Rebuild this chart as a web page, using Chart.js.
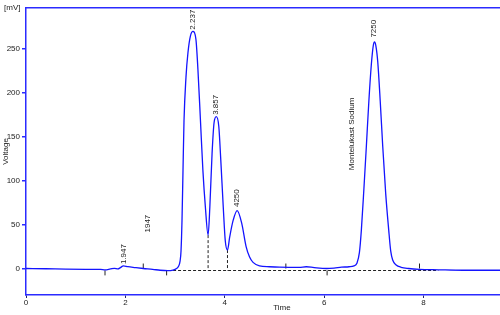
<!DOCTYPE html>
<html><head><meta charset="utf-8">
<script src="https://cdn.jsdelivr.net/npm/chart.js@4"></script>
<style>html,body{margin:0;padding:0;background:#fff}</style>
</head><body>
<canvas id="c" width="500" height="315"></canvas>
<script>
const timeMin = [0.00,0.40,0.80,1.20,1.50,1.59,1.70,1.78,1.85,1.90,1.96,2.05,2.20,2.36,2.55,2.70,2.85,2.96,3.03,3.07,3.10,3.12,3.14,3.16,3.18,3.22,3.26,3.31,3.36,3.42,3.46,3.51,3.56,3.61,3.665,3.70,3.745,3.785,3.83,3.88,3.92,3.97,4.01,4.055,4.10,4.17,4.25,4.34,4.43,4.50,4.57,4.70,4.90,5.10,5.50,5.64,5.80,6.05,6.20,6.35,6.50,6.60,6.66,6.71,6.75,6.80,6.85,6.90,6.95,6.99,7.015,7.04,7.08,7.13,7.18,7.24,7.30,7.34,7.38,7.45,7.55,7.70,7.92,8.30,8.80,9.54];
const signalMv = [0,-0.3,-0.8,-1,-1,-1.5,-0.5,0.2,-0.5,1,3,2,1,0,-1,-2,-2.5,-1.8,0,2.5,8,20,55,112,168,218,246,265,270,261,227,170,112,70,38,70,131,166,173,162,124,70,32,21,36,55,66,52,25,13,7,3,2,1.5,1.2,2,1,0,0.5,1.5,2,3,6,18,44,90,139,190,232,254,258,254,235,190,139,85,44,20,9.7,4,1.4,0,-1,-1.5,-2,-2];

const baselineTime = [2.96, 8.30];
const baselineMv = [-2.3, -2.3];
const dropTime = [3.665, 4.055];
const dropTopMv = [38, 21];
const markUpTime = [2.36, 5.23, 7.92];
const markDownTime = [1.59, 2.83, 6.06];
const markUpMv = 2.8, markDownMv = -5;

const labelTexts = ['2.237','3.857','4250','7250','1.947','1947','Montelukast Sodium'];
const labelTime = [3.36, 3.83, 4.25, 7.005, 1.96, 2.46, 6.55];
const labelMv = [272, 175, 70, 263, 5, 41, 112];

const xTicks = [0,2,4,6,8];
const yTicks = [0,50,100,150,200,250];

const BLUE = '#2b2bff';
const FONT = "'Liberation Sans', Arial, sans-serif";

const textPlugin = {
  id: 'texts',
  afterDatasetsDraw(chart) {
    const {ctx, scales:{x, y}, chartArea} = chart;
    ctx.save();
    ctx.fillStyle = '#222';
    ctx.font = '8px ' + FONT;
    ctx.textAlign = 'left';
    ctx.textBaseline = 'middle';
    labelTexts.forEach((t, i) => {
      ctx.save();
      ctx.translate(x.getPixelForValue(labelTime[i]), y.getPixelForValue(labelMv[i]));
      ctx.rotate(-Math.PI/2);
      ctx.fillText(t, 0, 0);
      ctx.restore();
    });
    ctx.textAlign = 'center';
    ctx.fillText('Time', chartArea.left + 0.54*(chartArea.right - chartArea.left), 308);
    ctx.save();
    ctx.translate(6, (chartArea.top + chartArea.bottom)/2);
    ctx.rotate(-Math.PI/2);
    ctx.fillText('Voltage', 0, 0);
    ctx.restore();
    ctx.textAlign = 'left';
    ctx.fillText('[mV]', 4, 8);
    ctx.restore();
  }
};

new Chart(document.getElementById('c'), {
  type: 'line',
  data: {
    datasets: [
      {
        data: timeMin.map((t, i) => ({x: t, y: signalMv[i]})),
        borderColor: '#1414ff', borderWidth: 1.3, pointRadius: 0,
        cubicInterpolationMode: 'monotone', fill: false
      },
      {
        data: baselineTime.map((t, i) => ({x: t, y: baselineMv[i]})),
        borderColor: '#222', borderWidth: 1, borderDash: [3, 2], pointRadius: 0
      },
      ...dropTime.map((t, i) => ({
        data: [{x: t, y: dropTopMv[i]}, {x: t, y: baselineMv[0]}],
        borderColor: '#222', borderWidth: 1, borderDash: [3, 2], pointRadius: 0
      })),
      {
        type: 'scatter',
        data: markUpTime.map(t => ({x: t, y: markUpMv})),
        pointStyle: 'line', rotation: 90, pointRadius: 2.5, borderColor: '#222', borderWidth: 1, showLine: false
      },
      {
        type: 'scatter',
        data: markDownTime.map(t => ({x: t, y: markDownMv})),
        pointStyle: 'line', rotation: 90, pointRadius: 2.5, borderColor: '#222', borderWidth: 1, showLine: false
      }
    ]
  },
  options: {
    responsive: false,
    animation: false,
    devicePixelRatio: 1,
    layout: {autoPadding: false, padding: {top: 8, right: 0, left: 0, bottom: 0}},
    plugins: {legend: {display: false}, tooltip: {enabled: false}},
    scales: {
      x: {
        type: 'linear', min: 0, max: 9.54,
        afterBuildTicks: s => { s.ticks = xTicks.map(v => ({value: v})); },
        afterFit: s => { s.height = 20; },
        grid: {drawOnChartArea: false, drawTicks: true, tickLength: 3, color: '#222266', lineWidth: 1},
        border: {color: BLUE, width: 1.5},
        ticks: {color: '#222', font: {size: 8, family: FONT}, padding: 0, maxRotation: 0, autoSkip: false}
      },
      x2: {
        type: 'linear', position: 'top', min: 0, max: 9.54,
        afterFit: s => { s.height = 0; },
        grid: {drawOnChartArea: false, drawTicks: false},
        border: {color: BLUE, width: 1.5},
        ticks: {display: false}
      },
      y: {
        type: 'linear', min: -30.2, max: 296.7,
        afterBuildTicks: s => { s.ticks = yTicks.map(v => ({value: v})); },
        afterFit: s => { s.width = 26; },
        grid: {drawOnChartArea: false, drawTicks: true, tickLength: 4, color: BLUE, lineWidth: 1.5},
        border: {color: BLUE, width: 1.5},
        ticks: {color: '#222', font: {size: 8, family: FONT}, padding: 2}
      }
    }
  },
  plugins: [textPlugin]
});
</script>
</body></html>
